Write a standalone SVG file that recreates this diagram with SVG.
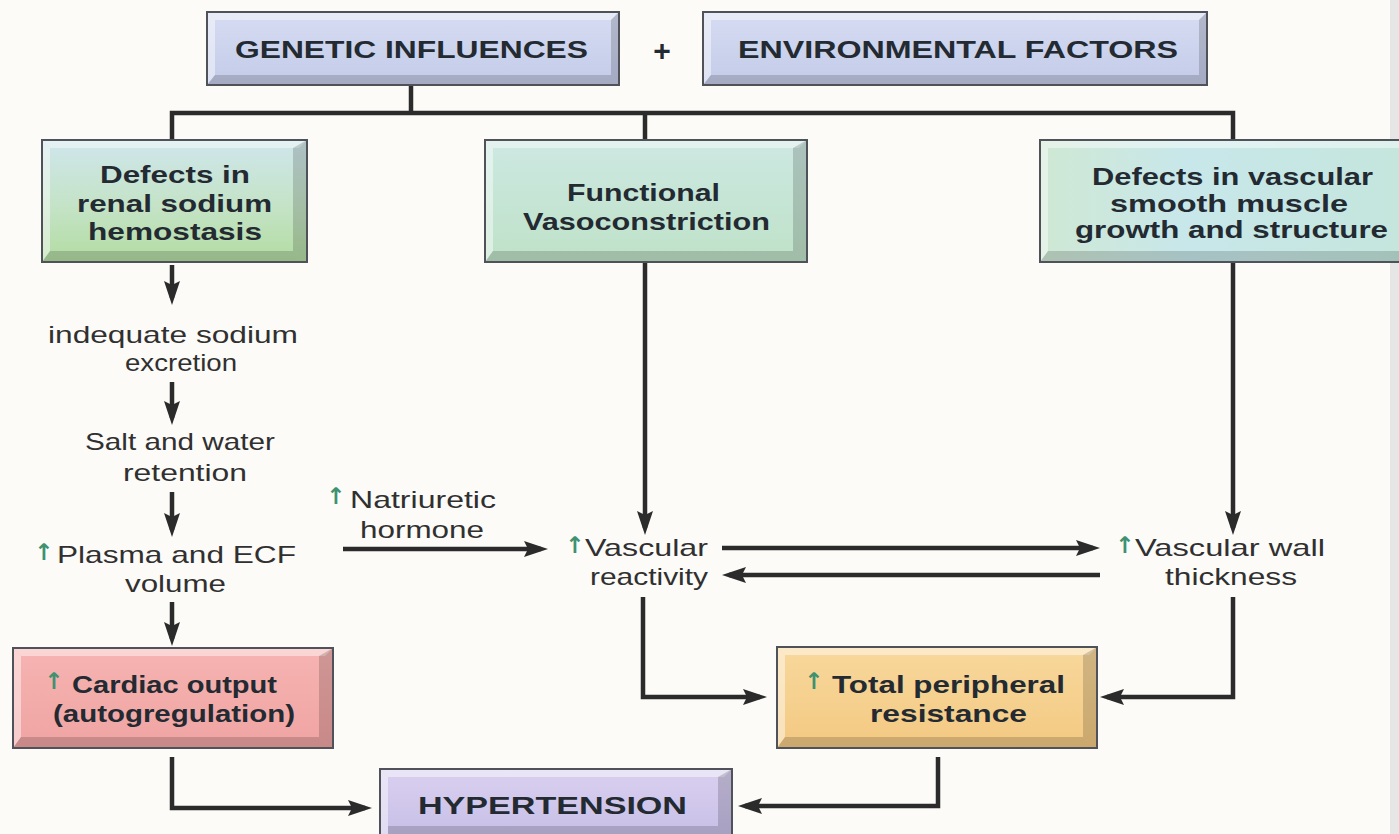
<svg xmlns="http://www.w3.org/2000/svg" width="1399" height="834" viewBox="0 0 1399 834">
<style>
.bx{font-family:"Liberation Sans",Arial,sans-serif;font-weight:bold;font-size:24px;fill:#232a32;text-anchor:start}
.tx{font-family:"Liberation Sans",Arial,sans-serif;font-size:24px;fill:#303030}
.up{font-family:"DejaVu Sans",sans-serif;font-size:23px;font-weight:bold;fill:#3e9270}
.edge{fill:none;stroke:#50525a;stroke-width:2}
.lt{fill:#ffffff;opacity:0.45}
.dk{fill:#000000;opacity:0.16}
.cn{fill:none;stroke:#2b2b2b;stroke-width:4.5}
.ca{fill:none;stroke:#2b2b2b;stroke-width:4.5;marker-end:url(#ah)}
</style>
<defs>
<marker id="ah" viewBox="0 0 24 16" refX="17" refY="8" markerWidth="24" markerHeight="16" markerUnits="userSpaceOnUse" orient="auto">
<path d="M0,0 L24,8 L0,16 L4,8 Z" fill="#2b2b2b"/>
</marker>
<linearGradient id="gBlue" x1="0" y1="0" x2="0" y2="1"><stop offset="0" stop-color="#d6dcf2"/><stop offset="1" stop-color="#c3cbe8"/></linearGradient>
<linearGradient id="gGreen1" x1="0" y1="0" x2="0" y2="1"><stop offset="0" stop-color="#cfe6ec"/><stop offset="0.55" stop-color="#c4e3c6"/><stop offset="1" stop-color="#b3dca2"/></linearGradient>
<linearGradient id="gGreen2" x1="0" y1="0" x2="0" y2="1"><stop offset="0" stop-color="#cde8e2"/><stop offset="1" stop-color="#bfe2c8"/></linearGradient>
<linearGradient id="gGreen3" x1="0" y1="0" x2="1" y2="0"><stop offset="0" stop-color="#cfe8d4"/><stop offset="0.4" stop-color="#c8e7ea"/><stop offset="1" stop-color="#c4e6dc"/></linearGradient>
<linearGradient id="gPink" x1="0" y1="0" x2="0" y2="1"><stop offset="0" stop-color="#f6b4b2"/><stop offset="1" stop-color="#efa4a2"/></linearGradient>
<linearGradient id="gOrange" x1="0" y1="0" x2="0" y2="1"><stop offset="0" stop-color="#f8d89c"/><stop offset="1" stop-color="#f3c982"/></linearGradient>
<linearGradient id="gPurple" x1="0" y1="0" x2="0" y2="1"><stop offset="0" stop-color="#d9d0f0"/><stop offset="1" stop-color="#c6bde6"/></linearGradient>
</defs>
<rect x="0" y="0" width="1399" height="834" fill="#fcfbf8"/>
<rect x="1390" y="0" width="9" height="834" fill="#e6e6e6"/>

<g id="connectors">
<path class="cn" d="M411,85 V113"/>
<path class="cn" d="M172,141 V113 H1233 V141"/>
<path class="cn" d="M645,113 V141"/>
<path class="ca" d="M172,265 V298"/>
<path class="ca" d="M172,382 V418"/>
<path class="ca" d="M172,492 V530"/>
<path class="ca" d="M172,602 V639"/>
<path class="ca" d="M343,549 H541"/>
<path class="ca" d="M645,262 V528"/>
<path class="ca" d="M1233,262 V528"/>
<path class="ca" d="M722,548 H1093"/>
<path class="ca" d="M1100,575 H729"/>
<path class="ca" d="M643,597 V697 H760"/>
<path class="ca" d="M1233,597 V697 H1107"/>
<path class="ca" d="M172,757 V808 H365"/>
<path class="ca" d="M938,757 V806 H745"/>
</g>

<g id="genetic">
<rect x="207" y="12" width="412" height="73" fill="url(#gBlue)"/>
<polygon class="lt" points="207,12 619,12 611,20 215,20"/>
<polygon class="lt" points="207,12 215,20 215,75 207,85"/>
<polygon class="dk" points="619,12 619,85 611,75 611,20"/>
<polygon class="dk" points="207,85 619,85 611,75 215,75"/>
<rect class="edge" x="207" y="12" width="412" height="73"/>
<text class="bx" x="235" y="58" textLength="353" lengthAdjust="spacingAndGlyphs">GENETIC INFLUENCES</text>
</g>

<g id="plus">
<text class="bx" x="662" y="61" style="text-anchor:middle;font-size:30px">+</text>
</g>

<g id="environmental">
<rect x="703" y="12" width="504" height="73" fill="url(#gBlue)"/>
<polygon class="lt" points="703,12 1207,12 1199,20 711,20"/>
<polygon class="lt" points="703,12 711,20 711,75 703,85"/>
<polygon class="dk" points="1207,12 1207,85 1199,75 1199,20"/>
<polygon class="dk" points="703,85 1207,85 1199,75 711,75"/>
<rect class="edge" x="703" y="12" width="504" height="73"/>
<text class="bx" x="738" y="58" textLength="440" lengthAdjust="spacingAndGlyphs">ENVIRONMENTAL FACTORS</text>
</g>

<g id="renal">
<rect x="42" y="140" width="265" height="122" fill="url(#gGreen1)"/>
<polygon class="lt" points="42,140 307,140 299,148 50,148"/>
<polygon class="lt" points="42,140 50,148 50,251 42,262"/>
<polygon class="dk" points="307,140 307,262 293,251 293,148"/>
<polygon class="dk" points="42,262 307,262 293,251 50,251"/>
<rect class="edge" x="42" y="140" width="265" height="122"/>
<text class="bx" x="100" y="183" textLength="150" lengthAdjust="spacingAndGlyphs">Defects in</text>
<text class="bx" x="77" y="212" textLength="195" lengthAdjust="spacingAndGlyphs">renal sodium</text>
<text class="bx" x="88" y="240" textLength="174" lengthAdjust="spacingAndGlyphs">hemostasis</text>
</g>

<g id="functional">
<rect x="485" y="140" width="322" height="122" fill="url(#gGreen2)"/>
<polygon class="lt" points="485,140 807,140 799,148 493,148"/>
<polygon class="lt" points="485,140 493,148 493,251 485,262"/>
<polygon class="dk" points="807,140 807,262 793,251 793,148"/>
<polygon class="dk" points="485,262 807,262 793,251 493,251"/>
<rect class="edge" x="485" y="140" width="322" height="122"/>
<text class="bx" x="567" y="201" textLength="153" lengthAdjust="spacingAndGlyphs">Functional</text>
<text class="bx" x="523" y="230" textLength="247" lengthAdjust="spacingAndGlyphs">Vasoconstriction</text>
</g>

<g id="vascular-defects">
<rect x="1040" y="140" width="370" height="122" fill="url(#gGreen3)"/>
<polygon class="lt" points="1040,140 1410,140 1410,148 1048,148"/>
<polygon class="lt" points="1040,140 1048,148 1048,251 1040,262"/>
<polygon class="dk" points="1040,262 1410,262 1410,251 1048,251"/>
<path class="edge" d="M1410,140 H1040 V262 H1410"/>
<text class="bx" x="1092" y="185" textLength="281" lengthAdjust="spacingAndGlyphs">Defects in vascular</text>
<text class="bx" x="1110" y="212" textLength="238" lengthAdjust="spacingAndGlyphs">smooth muscle</text>
<text class="bx" x="1075" y="238" textLength="313" lengthAdjust="spacingAndGlyphs">growth and structure</text>
</g>

<g id="sodium-excretion">
<text class="tx" x="48" y="343" textLength="250" lengthAdjust="spacingAndGlyphs">indequate sodium</text>
<text class="tx" x="125" y="371" textLength="112" lengthAdjust="spacingAndGlyphs">excretion</text>
</g>

<g id="salt-water">
<text class="tx" x="85" y="450" textLength="190" lengthAdjust="spacingAndGlyphs">Salt and water</text>
<text class="tx" x="123" y="481" textLength="124" lengthAdjust="spacingAndGlyphs">retention</text>
</g>

<g id="plasma">
<text class="up" x="44" y="560" text-anchor="middle">↑</text>
<text class="tx" x="57" y="563" textLength="239" lengthAdjust="spacingAndGlyphs">Plasma and ECF</text>
<text class="tx" x="125" y="592" textLength="101" lengthAdjust="spacingAndGlyphs">volume</text>
</g>

<g id="natriuretic">
<text class="up" x="336" y="504" text-anchor="middle">↑</text>
<text class="tx" x="350" y="508" textLength="146" lengthAdjust="spacingAndGlyphs">Natriuretic</text>
<text class="tx" x="360" y="538" textLength="124" lengthAdjust="spacingAndGlyphs">hormone</text>
</g>

<g id="vascular-reactivity">
<text class="up" x="575" y="553" text-anchor="middle">↑</text>
<text class="tx" x="585" y="556" textLength="123" lengthAdjust="spacingAndGlyphs">Vascular</text>
<text class="tx" x="590" y="585" textLength="118" lengthAdjust="spacingAndGlyphs">reactivity</text>
</g>

<g id="wall-thickness">
<text class="up" x="1125" y="553" text-anchor="middle">↑</text>
<text class="tx" x="1135" y="556" textLength="190" lengthAdjust="spacingAndGlyphs">Vascular wall</text>
<text class="tx" x="1165" y="585" textLength="132" lengthAdjust="spacingAndGlyphs">thickness</text>
</g>

<g id="cardiac">
<rect x="13" y="648" width="320" height="100" fill="url(#gPink)"/>
<polygon class="lt" points="13,648 333,648 325,656 21,656"/>
<polygon class="lt" points="13,648 21,656 21,737 13,748"/>
<polygon class="dk" points="333,648 333,748 319,737 319,656"/>
<polygon class="dk" points="13,748 333,748 319,737 21,737"/>
<rect class="edge" x="13" y="648" width="320" height="100"/>
<text class="up" x="54" y="689" text-anchor="middle">↑</text>
<text class="bx" x="72" y="693" textLength="205" lengthAdjust="spacingAndGlyphs">Cardiac output</text>
<text class="bx" x="53" y="722" textLength="242" lengthAdjust="spacingAndGlyphs">(autogregulation)</text>
</g>

<g id="resistance">
<rect x="777" y="647" width="320" height="101" fill="url(#gOrange)"/>
<polygon class="lt" points="777,647 1097,647 1089,655 785,655"/>
<polygon class="lt" points="777,647 785,655 785,737 777,748"/>
<polygon class="dk" points="1097,647 1097,748 1083,737 1083,655"/>
<polygon class="dk" points="777,748 1097,748 1083,737 785,737"/>
<rect class="edge" x="777" y="647" width="320" height="101"/>
<text class="up" x="814" y="689" text-anchor="middle">↑</text>
<text class="bx" x="832" y="693" textLength="233" lengthAdjust="spacingAndGlyphs">Total peripheral</text>
<text class="bx" x="870" y="722" textLength="157" lengthAdjust="spacingAndGlyphs">resistance</text>
</g>

<g id="hypertension">
<rect x="380" y="769" width="352" height="75" fill="url(#gPurple)"/>
<polygon class="lt" points="380,769 732,769 724,777 388,777"/>
<polygon class="lt" points="380,769 388,777 388,834 380,834"/>
<polygon class="dk" points="732,769 732,834 718,834 718,777"/>
<polygon class="dk" points="388,826 718,826 718,834 388,834"/>
<rect class="edge" x="380" y="769" width="352" height="75"/>
<text class="bx" x="418" y="814" textLength="269" lengthAdjust="spacingAndGlyphs">HYPERTENSION</text>
</g>
</svg>
